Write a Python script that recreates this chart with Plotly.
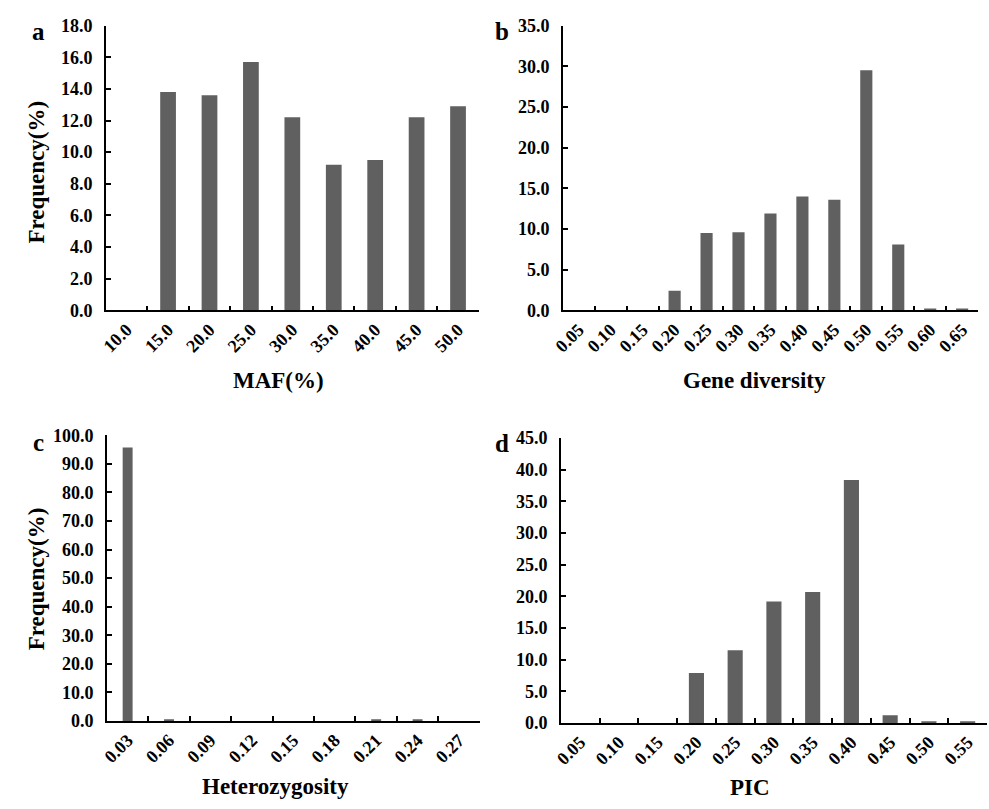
import plotly.graph_objects as go

# ---- data ----
maf_cats = ["10.0", "15.0", "20.0", "25.0", "30.0", "35.0", "40.0", "45.0", "50.0"]
maf_vals = [0.0, 13.8, 13.6, 15.7, 12.2, 9.2, 9.5, 12.2, 12.9]

gd_cats = ["0.05", "0.10", "0.15", "0.20", "0.25", "0.30", "0.35", "0.40", "0.45",
           "0.50", "0.55", "0.60", "0.65"]
gd_vals = [0.0, 0.0, 0.0, 2.4, 9.5, 9.6, 11.9, 14.0, 13.6, 29.5, 8.1, 0.1, 0.1]

het_cats = ["0.03", "0.06", "0.09", "0.12", "0.15", "0.18", "0.21", "0.24", "0.27"]
het_vals = [95.7, 0.3, 0.0, 0.0, 0.0, 0.0, 0.3, 0.3, 0.0]

pic_cats = ["0.05", "0.10", "0.15", "0.20", "0.25", "0.30", "0.35", "0.40", "0.45",
            "0.50", "0.55"]
pic_vals = [0.0, 0.0, 0.0, 7.9, 11.5, 19.2, 20.7, 38.4, 1.2, 0.2, 0.2]

x_titles = ["MAF(%)", "Gene diversity", "Heterozygosity", "PIC"]
panel_letters = ["a", "b", "c", "d"]
y_title = "Frequency(%)"

# ---- style ----
W, H = 989, 809
BAR = "#606060"
FONT = "Liberation Serif"
TICKFONT = dict(family=FONT, size=18, color="black", weight="bold")


def px(x):
    return x / W


def py(y):
    return 1 - y / H


panels = [
    dict(cats=maf_cats, vals=maf_vals, width=0.38, xd=(96, 473), yd=(16, 308), yr=18, dt=2),
    dict(cats=gd_cats, vals=gd_vals, width=0.38, xd=(558, 978), yd=(16, 308), yr=35, dt=5),
    dict(cats=het_cats, vals=het_vals, width=0.24, xd=(97, 474), yd=(436, 729), yr=100, dt=10),
    dict(cats=pic_cats, vals=pic_vals, width=0.39, xd=(556, 987), yd=(439, 731), yr=45, dt=5),
]

fig = go.Figure()
layout = dict(
    width=W, height=H,
    margin=dict(l=0, r=0, t=0, b=0),
    paper_bgcolor="white", plot_bgcolor="white",
    showlegend=False,
    font=dict(family=FONT, color="black"),
)

for i, p in enumerate(panels):
    n = "" if i == 0 else str(i + 1)
    fig.add_trace(go.Bar(
        x=p["cats"], y=p["vals"], width=p["width"],
        marker=dict(color=BAR, line=dict(width=0)),
        xaxis="x" + n, yaxis="y" + n,
    ))
    layout["xaxis" + n] = dict(
        domain=[px(p["xd"][0]), px(p["xd"][1])],
        anchor="y" + n, type="category",
        range=[-0.5, len(p["cats"]) - 0.5],
        showline=True, linecolor="black", linewidth=1.6,
        ticks="inside", tickson="boundaries", ticklen=5, tickwidth=1.6, tickcolor="black",
        tickangle=-45, tickfont=TICKFONT,
        showgrid=False, zeroline=False,
    )
    layout["yaxis" + n] = dict(
        domain=[py(p["yd"][1]), py(p["yd"][0])],
        anchor="x" + n,
        range=[0, p["yr"]], dtick=p["dt"], tick0=0, tickformat=".1f",
        showline=True, linecolor="black", linewidth=1.6,
        ticks="inside", ticklen=5, tickwidth=1.6, tickcolor="black",
        tickfont=TICKFONT, ticklabelstandoff=8,
        showgrid=False, zeroline=False,
    )

ann = []
common = dict(xref="paper", yref="paper", xanchor="center", yanchor="middle", showarrow=False)
# panel letters
for (lx, ly), t in zip([(28, 22), (497, 22), (28, 443), (497, 445)], panel_letters):
    ann.append(dict(x=px(lx), y=py(ly), text="<b>%s</b>" % t,
                    font=dict(family=FONT, size=25, color="black"), **common))
# x titles
for (lx, ly), t in zip([(271, 380), (752, 380), (267, 796), (747, 797)], x_titles):
    ann.append(dict(x=px(lx), y=py(ly), text="<b>%s</b>" % t,
                    font=dict(family=FONT, size=23, color="black"), **common))
# y titles
for (lx, ly) in [(26, 166), (26, 583)]:
    ann.append(dict(x=px(lx), y=py(ly), text="<b>%s</b>" % y_title, textangle=-90,
                    font=dict(family=FONT, size=23, color="black"), **common))
layout["annotations"] = ann

fig.update_layout(**layout)
fig.write_html("out.html")
